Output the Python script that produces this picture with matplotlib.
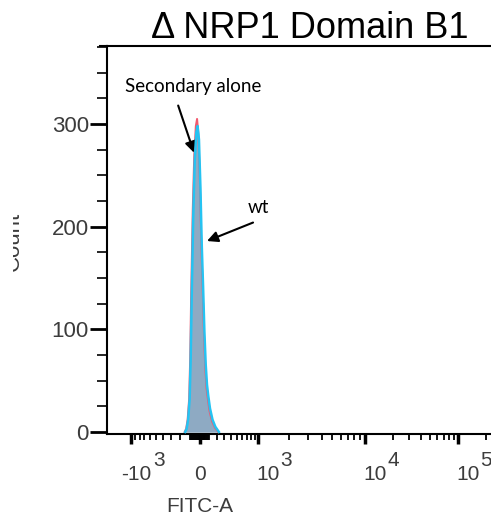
import numpy as np
import matplotlib
matplotlib.use('Agg')
import matplotlib.pyplot as plt
from matplotlib.patches import Rectangle
from matplotlib.lines import Line2D

plt.rc('font', family='Liberation Sans')

# histogram bins (FITC-A) and counts
sec_fitc = [-150, -135, -120, -105, -95, -85, -70, -55, -40, -28, -15, 0, 15, 30,
            45, 60, 75, 90, 110, 140, 175, 215]
sec_count = [0, 3, 12, 32, 70, 135, 215, 270, 298, 305, 290, 240, 180, 140,
             95, 62, 42, 32, 20, 10, 4, 0]
wt_fitc = [-145, -130, -115, -100, -90, -80, -65, -50, -35, -23, -10, 5, 20, 35,
           50, 65, 80, 95, 115, 145, 180, 225]
wt_count = [0, 3, 12, 32, 70, 130, 210, 265, 292, 298, 285, 238, 182, 142,
            98, 66, 46, 35, 23, 12, 5, 0]

major_ticks = [-1000, 0, 1000, 10000, 100000]
major_base = ['-10', '0', '10', '10', '10']
major_exp = ['3', '', '3', '4', '5']
y_ticks = [0, 100, 200, 300]

# biexponential-like display scale (knots tuned to the FlowJo axis)
knot_vals = np.array([-1e4, -1000, 0, 1000, 1e4, 1e5, 1e6])
knot_pix = np.array([34.0, 131, 200, 258, 365, 458, 551])
C = 400.0
knot_g = np.arcsinh(knot_vals / C)


def fwd(x):
    return np.interp(np.arcsinh(np.asarray(x, float) / C), knot_g, knot_pix)


def inv(p):
    return C * np.sinh(np.interp(np.asarray(p, float), knot_pix, knot_g))


W, H = 491, 521
fig = plt.figure(figsize=(W / 100, H / 100), dpi=100)
ax = fig.add_axes([107 / W, (H - 434) / H, (W - 107) / W, (434 - 46) / H])
ax.set_xscale('function', functions=(fwd, inv))
ax.set_xlim(inv(107), inv(491))
ax.set_ylim(-2, 376)

fill_c = '#8eaac3'
ax.fill_between(sec_fitc, sec_count, color=fill_c, lw=0, zorder=2)
ax.fill_between(wt_fitc, wt_count, color=fill_c, lw=0, zorder=2)
ax.plot(sec_fitc, sec_count, color='#f25a6e', lw=1.4, zorder=3)
ax.plot(wt_fitc, wt_count, color='#25c3f2', lw=1.8, zorder=4)

# spines
for s in ['left', 'bottom', 'top']:
    ax.spines[s].set_linewidth(1.5)
ax.spines['right'].set_visible(False)
fig.add_artist(Line2D([100 / W, 107 / W], [(H - 46) / H] * 2, color='k', lw=1.5))

lab_c = '#3c3c3c'

# y axis
ax.set_yticks(y_ticks)
ax.set_yticks(np.arange(25, 376, 25), minor=True)
ax.tick_params(axis='y', which='major', length=12, width=2, labelsize=16,
               labelcolor=lab_c, pad=1)
ax.tick_params(axis='y', which='minor', length=7, width=1.2)

# x axis
minor = []
for k in [1, 2]:
    minor += [-m * 10 ** k for m in range(1, 10)]
for k in [1, 2, 3, 4]:
    minor += [m * 10 ** k for m in range(1, 10)]
minor += [200000]
minor = [v for v in minor if v not in major_ticks]
ax.set_xticks(major_ticks)
ax.set_xticklabels([''] * len(major_ticks))
ax.set_xticks(minor, minor=True)
ax.tick_params(axis='x', which='major', length=7, width=2.5, direction='out')
ax.tick_params(axis='x', which='minor', length=4, width=1.3, direction='out')
ax.tick_params(axis='x', which='minor', labelbottom=False)

for v, b, e in zip(major_ticks, major_base, major_exp):
    if e == '':
        ax.annotate(b, xy=(v, 0), xycoords=('data', 'axes fraction'),
                    xytext=(0, -46), textcoords='offset pixels', ha='center',
                    va='baseline', fontsize=15, color=lab_c, annotation_clip=False)
        continue
    dx = -10 if b.startswith('-') else -2
    ax.annotate(b, xy=(v, 0), xycoords=('data', 'axes fraction'),
                xytext=(dx, -46), textcoords='offset pixels', ha='left',
                va='baseline', fontsize=15, color=lab_c, annotation_clip=False)
    ax.annotate(e, xy=(v, 0), xycoords=('data', 'axes fraction'),
                xytext=(22, -32), textcoords='offset pixels', ha='left',
                va='baseline', fontsize=15, color=lab_c, annotation_clip=False)

fig.text(200 / W, (H - 512) / H, 'FITC-A', ha='center', va='baseline',
         fontsize=15, color=lab_c)
fig.text(24 / W, (H - 241) / H, 'Count', rotation=90, ha='right', va='center',
         fontsize=16, color=lab_c)
fig.add_artist(Rectangle((0, 0), 12.5 / W, 1, transform=fig.transFigure,
                         facecolor='white', edgecolor='none', zorder=10))

# title
fig.text(310 / W, (H - 38) / H, '\u0394 NRP1 Domain B1', ha='center', va='baseline',
         fontsize=26, color='black')

# annotations
ann_font = 'Lato'
ax.text(-67, 337, 'Secondary alone', ha='center', va='center', fontsize=13.5,
        family=ann_font, color='black')
ax.annotate('', xy=(-57, 272), xytext=(-218, 318),
            arrowprops=dict(arrowstyle='-|>', color='black', lw=1.5,
                            mutation_scale=16, shrinkA=0, shrinkB=0))
ax.text(1000, 219, 'wt', ha='center', va='center', fontsize=13.5,
        family=ann_font, color='black')
ax.annotate('', xy=(80, 186), xytext=(858, 204),
            arrowprops=dict(arrowstyle='-|>', color='black', lw=1.5,
                            mutation_scale=16, shrinkA=0, shrinkB=0))

plt.savefig('out.png', dpi=100)
